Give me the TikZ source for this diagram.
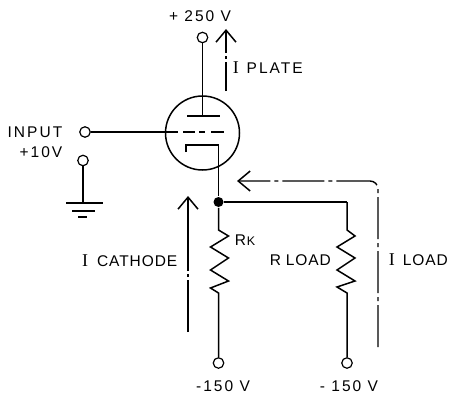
\documentclass[tikz,border=0pt]{standalone}
\usepackage{fontspec}
\newfontfamily\labelfont[LetterSpace=6]{Liberation Sans}
\newfontfamily\widefont[LetterSpace=13]{Liberation Sans}
\newfontfamily\currentfont{Liberation Serif}
\newcommand{\capI}{{\currentfont\fontsize{18}{18}\selectfont I}}
\usetikzlibrary{arrows.meta}

\begin{document}
\begin{tikzpicture}[x=1pt,y=-1pt,line width=1.5pt,>={Straight Barb[length=12pt,width=20pt,line width=1.5pt]},
terminal/.style={draw,circle,inner sep=0pt,minimum size=10.5pt,line width=1.2pt},
current/.style={->,line width=1.4pt},
lbl/.style={inner sep=0pt,font=\labelfont\fontsize{15.5}{16}\selectfont},
wide lbl/.style={inner sep=0pt,font=\widefont\fontsize{15.5}{16}\selectfont}]
\useasboundingbox (0,0) rectangle (449,396);
% The tube
\node[draw,circle,inner sep=0pt,minimum size=74pt] at (202.5,133) (tube) {};
\coordinate (plate) at (202.5,116);
\draw (187,116) -- (220,116);
\draw[dash pattern=on 12pt off 4pt on 6pt off 6pt on 12pt off 0pt] (183,132) -- (224,132);
\draw (186,152) |- (218.5,145) coordinate (cath);
% The terminals
\node[terminal] at (202.5,37.5) (plus) {};
\node[terminal] at (85,132) (input) {};
\node[terminal] at (83,160.5) (gnd) {};
\node[terminal] at (218.5,363) (rkend) {};
\node[terminal] at (347,363) (loadend) {};
\node[fill,circle,inner sep=0pt,minimum size=10pt] at (218.5,202) (jn) {};
\coordinate (grid) at (178,132);
\coordinate (earth) at (83,203);
\coordinate (loadtop) at (347,202);
% The wires
\draw (plus) -- (plate);
\draw[line width=1.1pt] (input) -- (grid);
\draw (cath) -- (jn);
\draw (jn) -- (loadtop);
\draw (gnd) -- (earth);
% The ground
\draw (66,203) -- (103,203);
\draw (72,211) -- (95,211);
\draw (78,217) -- (87,217);
% The resistors
\draw (jn) -- ++(0,28) -- ++(10,6) -- ++(-18,11) -- ++(18,11) -- ++(-18,12) -- ++(18,11)
  -- ++(-18,7) -- ++(8,5) -- (rkend);
\draw (loadtop) -- ++(0,28) -- ++(8,6) -- ++(-18,11) -- ++(18,11) -- ++(-18,12) -- ++(18,11)
  -- ++(-18,6) -- ++(10,6) -- (loadend);
% The currents
\coordinate (plate from) at (226,91);
\coordinate (plate to) at (226,29);
\coordinate (cath from) at (188,332);
\coordinate (cath to) at (188,196);
\coordinate (load from) at (378,347);
\coordinate (load to) at (237,181);
\draw[current,dash pattern=on 29pt off 3pt on 3pt off 3pt on 30pt off 0pt] (plate from) -- (plate to);
\draw[current,dash pattern=on 52pt off 3pt on 3pt off 3pt on 80pt off 0pt] (cath from) -- (cath to);
\draw[current,rounded corners=8pt,dash pattern=on 42pt off 4pt on 4pt off 4pt] (load from) |- (load to);
% The labels
\node[wide lbl,anchor=center] at (200,16) (lplus) {+ 250 V};
\node[wide lbl,anchor=west] at (232,68) (lplate) {\capI\hspace{8pt}PLATE};
\node[wide lbl,anchor=east] at (63,132) (linput) {INPUT};
\node[wide lbl,anchor=east] at (63,152) (lten) {+10V};
\node[lbl,anchor=east] at (178,261) (lcath) {\capI\hspace{9pt}CATHODE};
\node[lbl,anchor=west] at (234,240) (lrk) {R\hspace{1pt}\fontsize{12.5}{13}\selectfont K};
\node[lbl,anchor=west] at (269,260) (lrload) {R\hspace{5pt}LOAD};
\node[lbl,anchor=west] at (388,260) (liload) {\capI\hspace{8pt}LOAD};
\node[wide lbl,anchor=center] at (223,386) (lrkv) {-150 V};
\node[wide lbl,anchor=center] at (349,386) (lloadv) {- 150 V};
\end{tikzpicture}
\end{document}
